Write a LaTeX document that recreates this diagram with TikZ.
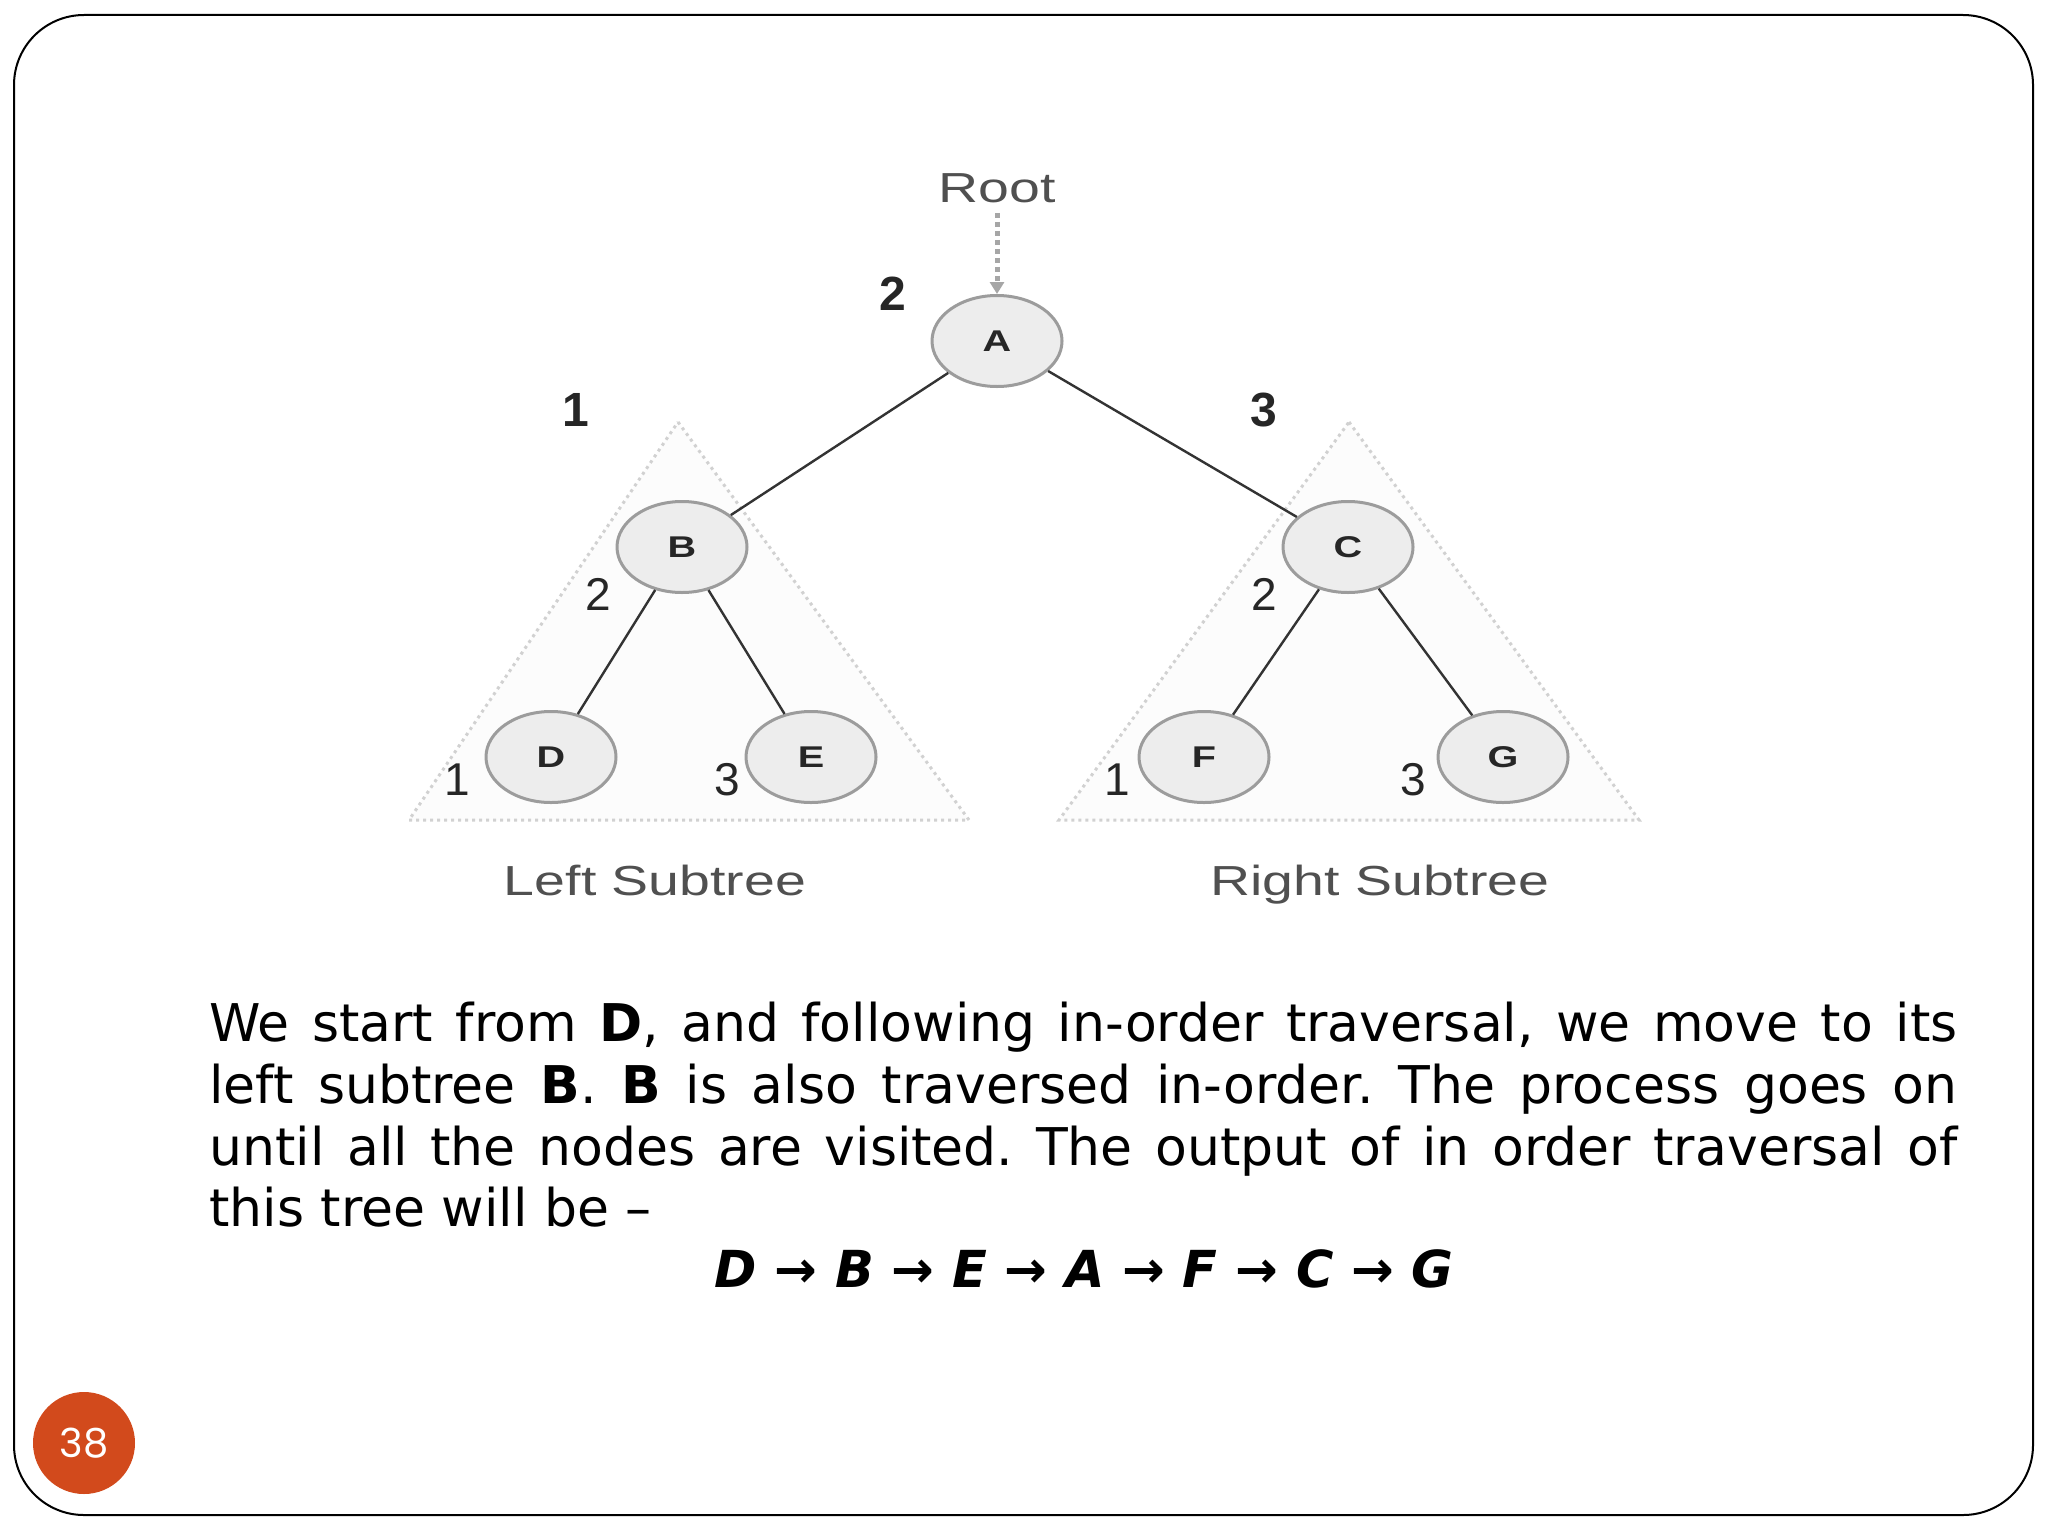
\documentclass[tikz,border=0pt]{standalone}
\usepackage{fontspec}
\setmainfont{DejaVu Sans}
\newfontfamily\arialf{Liberation Sans}
\newfontfamily\numf{Poppins}
\usetikzlibrary{arrows.meta,shapes.geometric}
\definecolor{nodefill}{HTML}{EDEDED}
\definecolor{nodeline}{HTML}{9C9C9C}
\definecolor{pagecol}{HTML}{D24A1C}
\definecolor{labgray}{HTML}{505050}
\newcommand{\wide}[1]{\scalebox{1.32}[1]{#1}}
\frenchspacing
\begin{document}
\begin{tikzpicture}[x=0.5pt,y=-0.5pt,
 tnode/.style={ellipse, draw=nodeline, line width=1.5pt, fill=nodefill, minimum width=65pt, minimum height=45.5pt, inner sep=0pt, font=\arialf\bfseries\fontsize{15}{15}\selectfont, text=black!85},
 edge/.style={draw=black!80, line width=1.2pt},
 ord/.style={font=\arialf\fontsize{23}{23}\selectfont, text=black!85, inner sep=0pt},
 bord/.style={font=\arialf\bfseries\fontsize{24}{24}\selectfont, text=black!85, inner sep=0pt},
 tri/.style={draw=black!18, fill=black!1, line width=1.5pt, dotted},
 capt/.style={font=\arialf\fontsize{21}{21}\selectfont, text=labgray, inner sep=0pt},
 body/.style={anchor=base west, inner sep=0pt, font=\fontsize{26}{30}\selectfont}
]
\useasboundingbox (0,0) rectangle (2048,1536);
\fill[white] (0,0) rectangle (2048,1536);
\draw[line width=1pt, rounded corners=35pt] (14,15) rectangle (2033,1515);

% subtrees
\draw[tri] (678,422) -- (969,820) -- (409,820) -- cycle;
\draw[tri] (1349,422) -- (1639,820) -- (1059,820) -- cycle;

% nodes
\node[tnode] (A) at (997,341) {\wide{A}};
\node[tnode] (B) at (682,547) {\wide{B}};
\node[tnode] (C) at (1348,547) {\wide{C}};
\node[tnode] (D) at (551,757) {\wide{D}};
\node[tnode] (E) at (811,757) {\wide{E}};
\node[tnode] (F) at (1204,757) {\wide{F}};
\node[tnode] (G) at (1503,757) {\wide{G}};

\draw[edge] (A) -- (B);
\draw[edge] (A) -- (C);
\draw[edge] (B) -- (D);
\draw[edge] (B) -- (E);
\draw[edge] (C) -- (F);
\draw[edge] (C) -- (G);

\node[capt, anchor=base] (root) at (997,202) {\wide{Root}};
\draw[draw=black!35, dotted, line width=2.5pt, -{Triangle[length=6pt,width=7pt]}] (root.south) ++(0,10) -- (A.north);

\node[bord] (n2) at (893,294) {2};
\node[bord] (n1) at (576,410) {1};
\node[bord] (n3) at (1264,410) {3};
\node[ord] (b2) at (598,594) {2};
\node[ord] (c2) at (1264,594) {2};
\node[ord] (d1) at (457,780) {1};
\node[ord] (e3) at (727,780) {3};
\node[ord] (f1) at (1117,780) {1};
\node[ord] (g3) at (1413,780) {3};

\node[capt, anchor=base] (ls) at (655,895) {\wide{Left Subtree}};
\node[capt, anchor=base] (rs) at (1380,895) {\wide{Right Subtree}};

% text
\node[body] (l1) at (209,1041) {\makebox[874pt][s]{We start from \textbf{D}, and following in-order traversal, we move to its}};
\node[body] (l2) at (209,1103) {\makebox[874pt][s]{left subtree \textbf{B}. \textbf{B} is also traversed in-order. The process goes on}};
\node[body] (l3) at (209,1165) {\makebox[874pt][s]{until all the nodes are visited. The output of in order traversal of}};
\node[body] (l4) at (209,1226) {this tree will be –};
\node[anchor=base, inner sep=0pt, font=\bfseries\itshape\fontsize{25.5}{30}\selectfont] (out) at (1084,1287) {D → B → E → A → F → C → G};

% page number
\node[circle, fill=pagecol, minimum size=51pt, inner sep=0pt, text=white, font=\numf\fontsize{20}{20}\selectfont] (pg) at (84,1443) {38};
\end{tikzpicture}
\end{document}
